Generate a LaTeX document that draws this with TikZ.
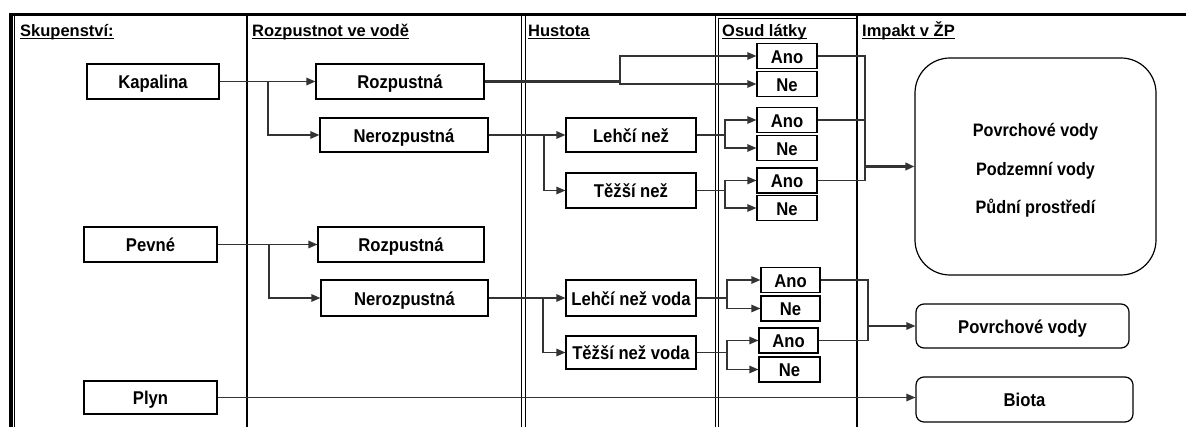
\documentclass[tikz,border=0pt]{standalone}
\usepackage{fontspec}
\setmainfont{Liberation Sans}
\newfontfamily\boxfont{Liberation Sans}[FakeStretch=0.9]
\usetikzlibrary{arrows.meta}
\newcommand{\ulx}[1]{\setbox0\hbox{#1}\rlap{\rule[-2.4pt]{\wd0}{1.1pt}}\box0}
\begin{document}
\begin{tikzpicture}[x=1pt,y=-1pt,
  every node/.style={font=\boxfont\fontsize{18.5}{21}\selectfont\bfseries, inner sep=0pt},
  box/.style={draw=black, line width=1.2pt, minimum height=35pt, text height=14.5pt, text depth=0pt},
  small/.style={box, minimum width=60pt, minimum height=25pt},
  conn/.style={draw=black!80, line width=1.3pt},
  arr/.style={conn, -{Triangle[length=9pt,width=7.5pt]}},
  heavy/.style={line width=2.6pt},
  hdr/.style={anchor=base west, font=\rmfamily\fontsize{16.5}{19}\selectfont\bfseries},
  frame/.style={draw=black, line width=#1},
  frame/.default=1pt]
\useasboundingbox (0,0) rectangle (1186,427);

% frame and column dividers
\draw[frame=3.6pt] (11,427) -- (11,14.5) -- (1186,14.5);
\draw[frame=1pt] (14.5,16.5) -- (14.5,427);
\draw[frame=2pt] (247,15) -- (247,427);
\draw[frame=0.9pt] (521,16) -- (521,427);
\draw[frame=0.9pt] (525,16) -- (525,427);
\draw[frame=0.9pt] (715,16) -- (715,427);
\draw[frame=0.9pt] (718.5,427) -- (718.5,18.5) -- (857,18.5);
\draw[frame=2pt] (857,15) -- (857,427);

% headers
\node[hdr] (h1) at (20,37) {\ulx{Skupenství:}};
\node[hdr] (h2) at (252,37) {\ulx{Rozpustnot ve vodě}};
\node[hdr] (h3) at (528,37) {\ulx{Hustota}};
\node[hdr] (h4) at (722,37) {\ulx{Osud látky}};
\node[hdr] (h5) at (862,37) {\ulx{Impakt v ŽP}};

% column 1
\node[box, minimum width=132pt] (kap) at (153,81.5) {Kapalina};
\node[box, minimum width=133pt] (pev) at (150.5,244.5) {Pevné};
\node[box, minimum width=133pt, minimum height=33pt] (ply) at (150.5,397.5) {Plyn};

% column 2
\node[box, minimum width=168pt] (roz1) at (400,81.5) {Rozpustná};
\node[box, minimum width=168pt, minimum height=34pt] (ner1) at (404,135) {Nerozpustná};
\node[box, minimum width=166pt] (roz2) at (401,244.5) {Rozpustná};
\node[box, minimum width=167pt, minimum height=36pt] (ner2) at (404.5,298) {Nerozpustná};

% column 3
\node[box, minimum width=130pt, minimum height=34pt] (leh1) at (631,135) {Lehčí než};
\node[box, minimum width=130pt] (tez1) at (631,190.5) {Těžší než};
\node[box, minimum width=130pt, minimum height=36pt] (leh2) at (631,298) {Lehčí než voda};
\node[box, minimum width=130pt, minimum height=33pt] (tez2) at (631,352.5) {Těžší než voda};

% column 4
\node[small] (ano1) at (787,56) {Ano};
\node[small] (ne1) at (787,84) {Ne};
\node[small] (ano2) at (787,120) {Ano};
\node[small] (ne2) at (787,148) {Ne};
\node[small] (ano3) at (787,180.5) {Ano};
\node[small] (ne3) at (787,208) {Ne};
\node[small, minimum width=59pt] (ano4) at (790.5,280) {Ano};
\node[small, minimum width=59pt] (ne4) at (790.5,308.5) {Ne};
\node[small, minimum width=59pt] (ano5) at (788.5,340.5) {Ano};
\node[small, minimum width=61pt] (ne5) at (789.5,369.5) {Ne};

% column 5
\node[box, rounded corners=35pt, minimum width=241pt, minimum height=217pt] (big) at (1035.5,166.5) {};
\node[align=center, font=\boxfont\fontsize{18}{38.5}\selectfont\bfseries] (bigtext)
      at ([yshift=-4pt]big.center) {Povrchové vody\\Podzemní vody\\Půdní prostředí};
\node[box, rounded corners=8pt, minimum width=213pt, minimum height=44pt] (pov) at (1022.5,326) {Povrchové vody};
\node[box, rounded corners=8pt, minimum width=217pt, minimum height=45pt] (bio) at (1024.5,399.5) {Biota};

% junction points
\coordinate (j1) at (268,81.5);
\coordinate (j2) at (269,244.5);
\coordinate (j3) at (620,81.5);
\coordinate (j4) at (544,135);
\coordinate (j5) at (543,298);
\coordinate (j6) at (725,135);
\coordinate (j7) at (725,190.5);
\coordinate (j8) at (727,298);
\coordinate (j9) at (727,352.5);
\coordinate (c1) at (865,166.5);
\coordinate (c2) at (868,326);

% connectors
\draw[arr] (kap.east) -- (roz1.west);
\draw[arr] (j1) |- (ner1.west);
\draw[arr] (pev.east) -- (roz2.west);
\draw[arr] (j2) |- (ner2.west);

\draw[conn, heavy] (roz1.east) -- (j3);
\draw[arr] (j3) |- (ano1.west);
\draw[arr] (j3) |- (ne1.west);

\draw[arr] (ner1.east) -- (leh1.west);
\draw[arr] (j4) |- (tez1.west);
\draw[arr] (ner2.east) -- (leh2.west);
\draw[arr] (j5) |- (tez2.west);

\draw[conn] (leh1.east) -- (j6);
\draw[arr] (j6) |- (ano2.west);
\draw[arr] (j6) |- (ne2.west);
\draw[conn] (tez1.east) -- (j7);
\draw[arr] (j7) |- (ano3.west);
\draw[arr] (j7) |- (ne3.west);
\draw[conn] (leh2.east) -- (j8);
\draw[arr] (j8) |- (ano4.west);
\draw[arr] (j8) |- (ne4.west);
\draw[conn] (tez2.east) -- (j9);
\draw[arr] (j9) |- (ano5.west);
\draw[arr] (j9) |- (ne5.west);

\draw[conn] (ano1.east) -| (c1) |- (ano3.east);
\draw[conn] (ano2.east) -- (ano2.east -| c1);
\draw[arr, heavy] (c1) -- (big.west);

\draw[conn] (ano4.east) -| (c2) |- (ano5.east);
\draw[arr] (c2) -- (pov.west);

\draw[arr] (ply.east) -- (ply.east -| bio.west);
\end{tikzpicture}
\end{document}
